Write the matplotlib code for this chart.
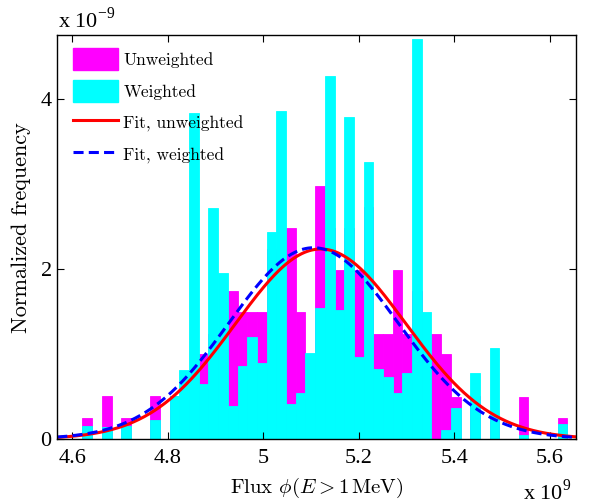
"""Flux histogram: unweighted vs weighted, with Gaussian fits."""

import matplotlib

matplotlib.use("Agg")

import matplotlib.pyplot as plt
import numpy as np
from matplotlib.lines import Line2D
from matplotlib.patches import Patch

plt.rcParams["mathtext.fontset"] = "cm"

# histogram bins (flux in units of 1e9)
first_bin_center = 4.6313
bin_width = 0.0203

# normalized frequency (units of 1e-9), one value per bin
unweighted = [
    0.25, 0.0, 0.50, 0.0, 0.25, 0.0, 0.0, 0.50, 0.0, 0.50,
    0.50, 0.75, 0.996, 1.24, 1.24, 1.74, 1.49, 1.49, 1.49, 2.24,
    2.24, 2.48, 1.49, 1.00, 2.98, 2.48, 1.99, 2.48, 1.99, 2.73,
    1.24, 1.24, 1.99, 1.24, 1.74, 0.99, 1.24, 0.996, 0.494, 0.0,
    0.50, 0.0, 0.25, 0.0, 0.0, 0.498, 0.0, 0.0, 0.0, 0.25,
]
weighted = [
    0.157, 0.0, 0.14, 0.0, 0.157, 0.0, 0.0, 0.224, 0.0, 0.50,
    0.81, 3.84, 0.643, 2.72, 1.95, 0.388, 0.86, 1.20, 0.898, 2.43,
    3.86, 0.408, 0.545, 1.008, 1.545, 4.27, 1.52, 3.79, 0.968, 3.26,
    0.82, 0.733, 0.545, 0.78, 4.70, 1.49, 0.0, 0.106, 0.36, 0.0,
    0.773, 0.0, 1.074, 0.0, 0.0, 0.047, 0.0, 0.0, 0.0, 0.176,
]

# Gaussian fit parameters (mean, std) in units of 1e9
fit_unweighted = (5.120, 0.1785)
fit_weighted = (5.105, 0.1773)

x_limits = (4.5685, 5.6546)
y_limits = (0.0, 4.753)
x_ticks = [4.6, 4.8, 5.0, 5.2, 5.4, 5.6]
x_tick_labels = ["4.6", "4.8", "5", "5.2", "5.4", "5.6"]
y_ticks = [0, 2, 4]
y_tick_labels = ["0", "2", "4"]

MAGENTA = "#ff00ff"
CYAN = "#00ffff"
TICK_FONT = "Liberation Serif"
TEX_FONT = "cmr10"


def gaussian(x, mean, std):
    return np.exp(-0.5 * ((x - mean) / std) ** 2) / (std * np.sqrt(2.0 * np.pi))


fig = plt.figure(figsize=(5.9, 5.04), dpi=100)
ax = fig.add_axes([0.0971, 0.129, 0.8792, 0.8016])

centers = first_bin_center + bin_width * np.arange(len(unweighted))
ax.bar(centers, unweighted, width=bin_width, color=MAGENTA, edgecolor=MAGENTA, linewidth=0.6)
ax.bar(centers, weighted, width=bin_width, color=CYAN, edgecolor=CYAN, linewidth=0.6)

x_fit = np.linspace(x_limits[0], x_limits[1], 400)
ax.plot(x_fit, gaussian(x_fit, *fit_unweighted), color="red", linewidth=2.2)
ax.plot(x_fit, gaussian(x_fit, *fit_weighted), color="blue", linewidth=2.2, dashes=(3.3, 1.7))

ax.set_xlim(*x_limits)
ax.set_ylim(*y_limits)
ax.set_xticks(x_ticks)
ax.set_xticklabels(x_tick_labels, fontfamily=TICK_FONT, fontsize=16)
ax.set_yticks(y_ticks)
ax.set_yticklabels(y_tick_labels, fontfamily=TICK_FONT, fontsize=16)
ax.tick_params(direction="in", top=True, right=True, length=5, width=0.8)
ax.tick_params(axis="x", pad=7)
ax.tick_params(axis="y", pad=4)
for spine in ax.spines.values():
    spine.set_linewidth(1.0)

ax.set_xlabel(r"Flux $\phi(E > 1\,\mathrm{MeV})$", fontfamily=TEX_FONT, fontsize=15, labelpad=6)
ax.set_ylabel("Normalized frequency", fontfamily=TEX_FONT, fontsize=16)
ax.yaxis.set_label_coords(-0.051, 0.5235)

# MATLAB-style exponent labels
fig.text(58 / 590, 1 - 28 / 504, r"x 10$^{\mathregular{-9}}$", fontfamily=TICK_FONT, fontsize=16)
fig.text(523 / 590, 1 - 500 / 504, r"x 10$^{\mathregular{9}}$", fontfamily=TICK_FONT, fontsize=16)

handles = [
    Patch(facecolor=MAGENTA, edgecolor=MAGENTA),
    Patch(facecolor=CYAN, edgecolor=CYAN),
    Line2D([], [], color="red", linewidth=2.2),
    Line2D([], [], color="blue", linewidth=2.2, dashes=(3.3, 1.7)),
]
labels = ["Unweighted", "Weighted", "Fit, unweighted", "Fit, weighted"]
ax.legend(
    handles,
    labels,
    loc="upper left",
    bbox_to_anchor=(0.030, 0.968),
    borderaxespad=0.0,
    borderpad=0.0,
    frameon=False,
    prop={"family": TEX_FONT, "size": 12.5},
    handlelength=2.6,
    handleheight=1.6,
    handletextpad=0.3,
    labelspacing=0.55,
)

fig.savefig("out.png", dpi=100)
plt.close(fig)
